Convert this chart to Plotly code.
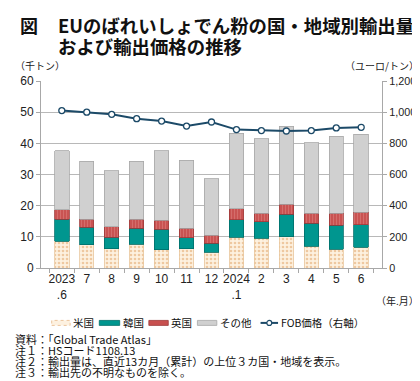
import plotly.graph_objects as go

months = ["2023<br>.6", "7", "8", "9", "10", "11", "12", "2024<br>.1", "2", "3", "4", "5", "6"]
us = [8.6, 7.4, 6.1, 7.6, 5.8, 6.1, 5.1, 9.9, 9.5, 10.1, 7.0, 6.0, 6.6]
korea = [7.0, 5.7, 3.7, 5.1, 6.6, 3.6, 2.8, 5.6, 5.3, 7.2, 7.3, 7.7, 7.3]
uk = [3.1, 2.6, 3.4, 3.0, 3.0, 3.1, 2.6, 3.5, 2.8, 3.2, 3.2, 3.8, 4.0]
other = [19.0, 18.5, 18.0, 18.5, 22.3, 21.8, 18.2, 24.3, 23.8, 25.0, 22.7, 24.7, 25.0]
fob = [1010, 1000, 986, 958, 943, 911, 937, 888, 882, 879, 882, 899, 903]
series_names = ["米国", "韓国", "英国", "その他", "FOB価格（右軸）"]
notes = ["資料：「Global Trade Atlas」", "注１：HSコード1108.13",
         "注２：輸出量は、直近13カ月（累計）の上位３カ国・地域を表示。", "注３：輸出先の不明なものを除く。"]

FONT = "Noto Sans CJK JP"
PL, PR, PT, PB = 29, 380, 72.7, 260
W, H = 420, 381
US_C, KR_C, UK_C, OT_C, LN_C = "#fdf1e0", "#00968f", "#c8504f", "#d0d0d0", "#1c4a68"

def px(x):
    return (x - PL) / (PR - PL)

def py(y):
    return (PB - y) / (PB - PT)

fig = go.Figure()
fig.add_bar(x=months, y=us, name=series_names[0], width=0.58,
            marker=dict(color=US_C, line=dict(color="#e8c8a0", width=0.8),
                        pattern=dict(shape=".", fgcolor="#e0a060", bgcolor=US_C, size=4, solidity=0.35)))
fig.add_bar(x=months, y=korea, name=series_names[1], width=0.58,
            marker=dict(color=KR_C, line=dict(color="#006e6a", width=0.8)))
fig.add_bar(x=months, y=uk, name=series_names[2], width=0.58,
            marker=dict(color=UK_C, line=dict(color="#9e3a3a", width=0.8),
                        pattern=dict(shape="|", fgcolor="#e08a88", bgcolor=UK_C, size=3, solidity=0.4)))
fig.add_bar(x=months, y=other, name=series_names[3], width=0.58,
            marker=dict(color=OT_C, line=dict(color="#a8a8a8", width=0.8)))
fig.add_scatter(x=months, y=fob, name=series_names[4], yaxis="y2", mode="lines+markers",
                line=dict(color=LN_C, width=2),
                marker=dict(symbol="circle", size=6, color="white", line=dict(color=LN_C, width=1.3)))

fig.update_layout(
    width=W, height=H, barmode="stack",
    margin=dict(l=PL, r=W - PR, t=PT, b=H - PB),
    paper_bgcolor="white", plot_bgcolor="white",
    font=dict(family=FONT, size=12, color="#222"),
    showlegend=False,
    xaxis=dict(type="category", showline=True, linecolor="#a8a8a8", ticks="outside",
               tickcolor="#a8a8a8", ticklen=4, tickson="boundaries", tickangle=0,
               tickfont=dict(size=12, family="Liberation Sans"),
               showgrid=False),
    yaxis=dict(range=[0, 60], dtick=10, showgrid=True, gridcolor="#b8b8b8", gridwidth=1,
               showline=True, linecolor="#a8a8a8", ticks="outside", tickcolor="#a8a8a8", ticklen=4,
               tickfont=dict(size=12, family="Liberation Sans"), zeroline=False),
    yaxis2=dict(range=[0, 1200], dtick=200, overlaying="y", side="right", showgrid=False,
                tickformat=",", showline=True, linecolor="#a8a8a8", ticks="outside",
                tickcolor="#a8a8a8", ticklen=4,
                tickfont=dict(size=10.8, family="Liberation Sans"),
                zeroline=False),
)

ann = []
ann.append(dict(text="<b>図</b>", x=px(5), y=py(17), xanchor="left", yanchor="middle",
                font=dict(size=18, family=FONT, color="#111")))
ann.append(dict(text="<b>EUのばれいしょでん粉の国・地域別輸出量</b>", x=px(44), y=py(16.5), xanchor="left",
                yanchor="middle", font=dict(size=18.4, family=FONT, color="#111")))
ann.append(dict(text="<b>および輸出価格の推移</b>", x=px(44), y=py(38), xanchor="left",
                yanchor="middle", font=dict(size=18.4, family=FONT, color="#111")))
ann.append(dict(text="（千トン）", x=px(0), y=py(57.5), xanchor="left", yanchor="middle",
                font=dict(size=10, family=FONT)))
ann.append(dict(text="（ユーロ/トン）", x=px(420), y=py(57.5), xanchor="right", yanchor="middle",
                font=dict(size=10, family=FONT)))
ann.append(dict(text="（年.月）", x=px(420), y=py(293), xanchor="right", yanchor="middle",
                font=dict(size=10, family=FONT)))
for i, t in enumerate(notes):
    ann.append(dict(text=t, x=px(0), y=py(331 + 11 * i), xanchor="left", yanchor="middle",
                    font=dict(size=11, family=FONT, color="#111")))

# manual legend
LY = 315
shapes = []
swatches = [(40, 59, US_C, "#e6b888"), (89, 110, KR_C, "#006e6a"),
            (140, 160, UK_C, "#9e3a3a"), (190, 210, OT_C, "#a8a8a8")]
text_x = [60, 111, 161, 211, 274]
for (x0, x1, fc, lc) in swatches:
    shapes.append(dict(type="rect", xref="paper", yref="paper", x0=px(x0), x1=px(x1),
                       y0=py(LY + 2.5), y1=py(LY - 2.5), fillcolor=fc,
                       line=dict(color=lc, width=0.8, dash="dot" if fc == US_C else "solid")))
shapes.append(dict(type="line", xref="paper", yref="paper", x0=px(255), x1=px(273),
                   y0=py(LY), y1=py(LY), line=dict(color=LN_C, width=2)))
shapes.append(dict(type="circle", xref="paper", yref="paper", x0=px(261.5), x1=px(266.5),
                   y0=py(LY + 2.5), y1=py(LY - 2.5), fillcolor="white",
                   line=dict(color=LN_C, width=1.2)))
for name, tx in zip(series_names, text_x):
    ann.append(dict(text=name, x=px(tx), y=py(LY), xanchor="left", yanchor="middle",
                    font=dict(size=10.5, family=FONT, color="#111")))

for a in ann:
    a.update(xref="paper", yref="paper", showarrow=False)
fig.update_layout(annotations=ann, shapes=shapes)

fig.write_html("out.html")
